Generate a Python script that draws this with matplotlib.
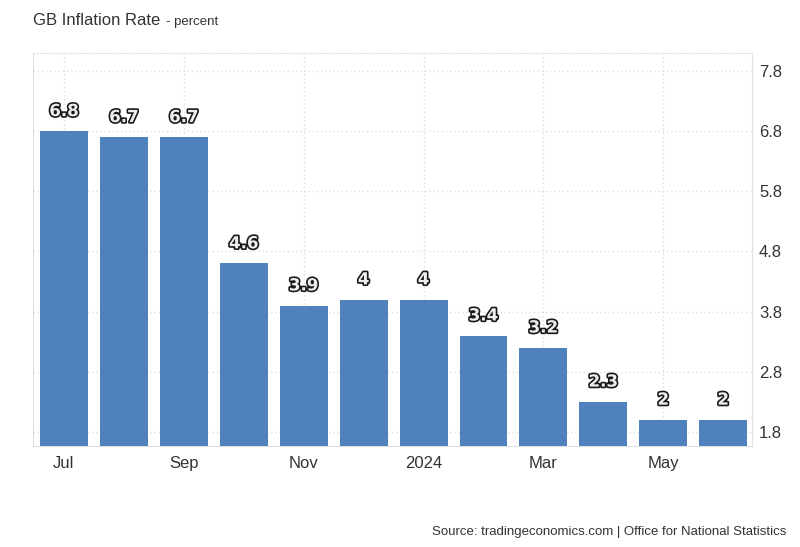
import numpy as np
import matplotlib
matplotlib.use("Agg")
import matplotlib.pyplot as plt
import matplotlib.patheffects as pe

plt.rcParams["font.family"] = ["Liberation Sans", "DejaVu Sans"]

months = ["Jul", "Aug", "Sep", "Oct", "Nov", "Dec", "Jan", "Feb", "Mar", "Apr", "May", "Jun"]
values = [6.8, 6.7, 6.7, 4.6, 3.9, 4.0, 4.0, 3.4, 3.2, 2.3, 2.0, 2.0]
tick_pos = [0, 2, 4, 6, 8, 10]
tick_labels = ["Jul", "Sep", "Nov", "2024", "Mar", "May"]
y_ticks = [1.8, 2.8, 3.8, 4.8, 5.8, 6.8, 7.8]

fig = plt.figure(figsize=(8, 5.47), dpi=100)
ax = fig.add_axes([0.041, 0.185, 0.899, 0.718])

x = np.arange(len(values))
bottom = 1.567
ax.bar(x, np.array(values) - bottom, bottom=bottom, width=0.8, color="#4F81BD", zorder=3)

for xi, v in zip(x, values):
    label = f"{v:g}"
    ax.annotate(label, (xi, v), xytext=(0, 14.5), textcoords="offset points",
                ha="center", va="center", fontsize=12, fontweight="bold",
                color="#eeeeee", zorder=5, family="DejaVu Sans",
                path_effects=[pe.withStroke(linewidth=2.4, foreground="#1a1a1a")])

ax.set_xlim(-0.52, 11.48)
ax.set_ylim(bottom, 8.10)
ax.set_xticks(tick_pos)
ax.set_xticklabels(tick_labels, fontsize=12, color="#333333")
ax.set_yticks(y_ticks)
ax.set_yticklabels([f"{t:.1f}" for t in y_ticks], fontsize=12, color="#333333")
ax.yaxis.tick_right()
ax.tick_params(axis="x", length=0, pad=7)
ax.tick_params(axis="y", length=0, pad=5)

ax.grid(True, color="#dddddd", linestyle=(0, (1, 2)), linewidth=1, zorder=0)
for side in ["left", "right", "bottom"]:
    ax.spines[side].set_color("#e0e0e0")
ax.spines["top"].set_color("#dddddd")
ax.spines["top"].set_linestyle((0, (1, 2)))

title = fig.text(0.041, 0.962, "GB Inflation Rate", fontsize=12, color="#333333", va="center")
ax.annotate("- percent", xy=(1, 0.45), xycoords=title, xytext=(4, 0),
            textcoords="offset points", fontsize=9.5, color="#333333",
            va="center", ha="left", annotation_clip=False)
fig.text(0.983, 0.028, "Source: tradingeconomics.com | Office for National Statistics",
         fontsize=9.5, color="#333333", ha="right", va="center")

plt.savefig("out.png", dpi=100)
plt.close()
